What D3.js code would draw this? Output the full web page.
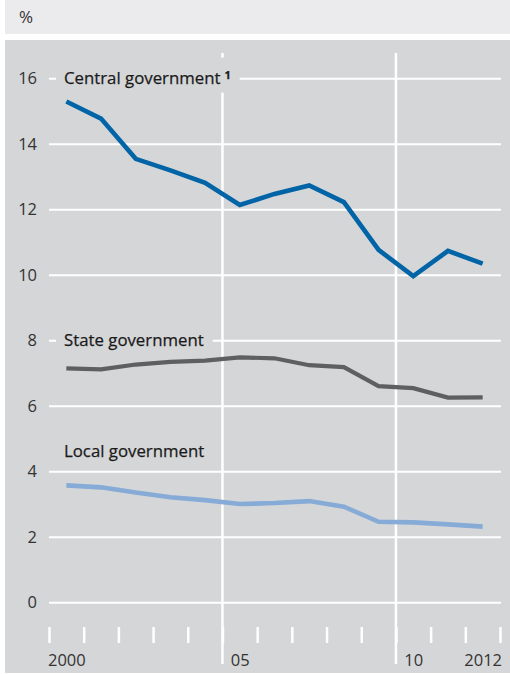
<!DOCTYPE html>
<html>
    <head>
        <style>
            body { margin: 0; background: #fff; }
            svg { display: block; font-family: "Open Sans", sans-serif; }
        </style>
        <script src="https://cdnjs.cloudflare.com/ajax/libs/d3/7.8.5/d3.min.js"></script>
    </head>
    <body>
        <div id="chart"></div>
        <script>
            // years and values (% )
            const years = [2000, 2001, 2002, 2003, 2004, 2005, 2006, 2007, 2008, 2009, 2010, 2011, 2012];
            const central = [15.29, 14.77, 13.54, 13.19, 12.81, 12.13, 12.47, 12.73, 12.22, 10.76, 9.96, 10.73, 10.34];
            const state = [7.14, 7.11, 7.26, 7.34, 7.38, 7.48, 7.45, 7.24, 7.18, 6.60, 6.54, 6.25, 6.26];
            const local = [3.57, 3.51, 3.35, 3.21, 3.12, 3.00, 3.03, 3.09, 2.92, 2.46, 2.44, 2.38, 2.31];
            const yTicks = [0, 2, 4, 6, 8, 10, 12, 14, 16];
            const xLabels = ["2000", "05", "10", "2012"];
            const xLabelYears = [2000, 2005, 2010, 2012];
            const unit = "%";

            const w = 510, h = 674;

            const svg = d3.select("#chart").append("svg")
                .attr("width", w)
                .attr("height", h);

            // header band and plot panel
            svg.append("rect").attr("x", 5).attr("y", 0).attr("width", w - 5).attr("height", 34).attr("fill", "#ebebed");
            svg.append("rect").attr("x", 5).attr("y", 40).attr("width", w - 5).attr("height", 633).attr("fill", "#d5d6d8");
            svg.append("text").attr("x", 19).attr("y", 23).attr("font-size", 17).attr("fill", "#333").text(unit);

            const x = d3.scaleLinear().domain([2000, 2013]).range([49, 500]);
            const y = d3.scaleLinear().domain([0, 16]).range([602.3, 78.3]);

            // horizontal grid + y labels
            const yAxis = d3.axisLeft(y).tickValues(yTicks).tickSize(-(x.range()[1] - x.range()[0] + 1)).tickPadding(12);
            const gy = svg.append("g").attr("transform", "translate(49,0)").call(yAxis);
            gy.select(".domain").remove();
            gy.selectAll(".tick line").attr("stroke", "#fff").attr("stroke-width", 2);
            gy.selectAll(".tick text").attr("font-size", 16.5).attr("fill", "#333").attr("font-family", "Open Sans, sans-serif");

            // vertical grid at 2005 and 2010
            svg.selectAll(".vgrid").data([2005, 2010]).enter().append("line")
                .attr("x1", d => x(d)).attr("x2", d => x(d))
                .attr("y1", 53).attr("y2", 664)
                .attr("stroke", "#fff").attr("stroke-width", 2.5);

            // year ticks at bottom
            const xTickAxis = d3.axisBottom(x).tickValues(d3.range(2000, 2014)).tickSize(16).tickFormat("");
            const gx = svg.append("g").attr("transform", "translate(0,627)").call(xTickAxis);
            gx.select(".domain").remove();
            gx.selectAll(".tick line").attr("stroke", "#fff").attr("stroke-width", 2.5);

            // year labels, centred on mid-year
            const xLabelAxis = d3.axisBottom(x).tickValues(xLabelYears.map(d => d + 0.5)).tickSize(0).tickPadding(0)
                .tickFormat((d, i) => xLabels[i]);
            const gxl = svg.append("g").attr("transform", "translate(0,654)").call(xLabelAxis);
            gxl.select(".domain").remove();
            gxl.selectAll(".tick text").attr("font-size", 16.5).attr("fill", "#333").attr("font-family", "Open Sans, sans-serif");

            const series = [
                { name: "Central government", values: central, color: "#0064a6", width: 4.6, labelAt: 16, sup: true, bg: true },
                { name: "State government", values: state, color: "#5e5f61", width: 4.2, labelAt: 8, sup: false, bg: true },
                { name: "Local government", values: local, color: "#86abd7", width: 4.6, labelAt: 4.6, sup: false, bg: false }
            ];

            const line = d3.line().x((d, i) => x(years[i] + 0.5)).y(d => y(d));

            series.forEach(s => {
                svg.append("path")
                    .datum(s.values)
                    .attr("d", line)
                    .attr("fill", "none")
                    .attr("stroke", s.color)
                    .attr("stroke-width", s.width)
                    .attr("stroke-linejoin", "miter");

                const lbl = svg.append("g");
                const t = lbl.append("text")
                    .attr("x", 64).attr("y", y(s.labelAt)).attr("dy", "0.32em")
                    .attr("font-size", 16.8).attr("fill", "#1a1a1a")
                    .attr("stroke", "#1a1a1a").attr("stroke-width", 0.25)
                    .text(s.name);
                if (s.sup) {
                    t.append("tspan").attr("dx", 4).attr("dy", -4.5).attr("font-size", 11).attr("font-weight", "bold").text("1");
                }
                if (s.bg) {
                    const b = t.node().getBBox();
                    lbl.insert("rect", "text")
                        .attr("x", b.x - 8).attr("y", b.y - 8)
                        .attr("width", b.width + 17).attr("height", b.height + 12)
                        .attr("fill", "#d5d6d8");
                }
            });
        </script>
    </body>
</html>
